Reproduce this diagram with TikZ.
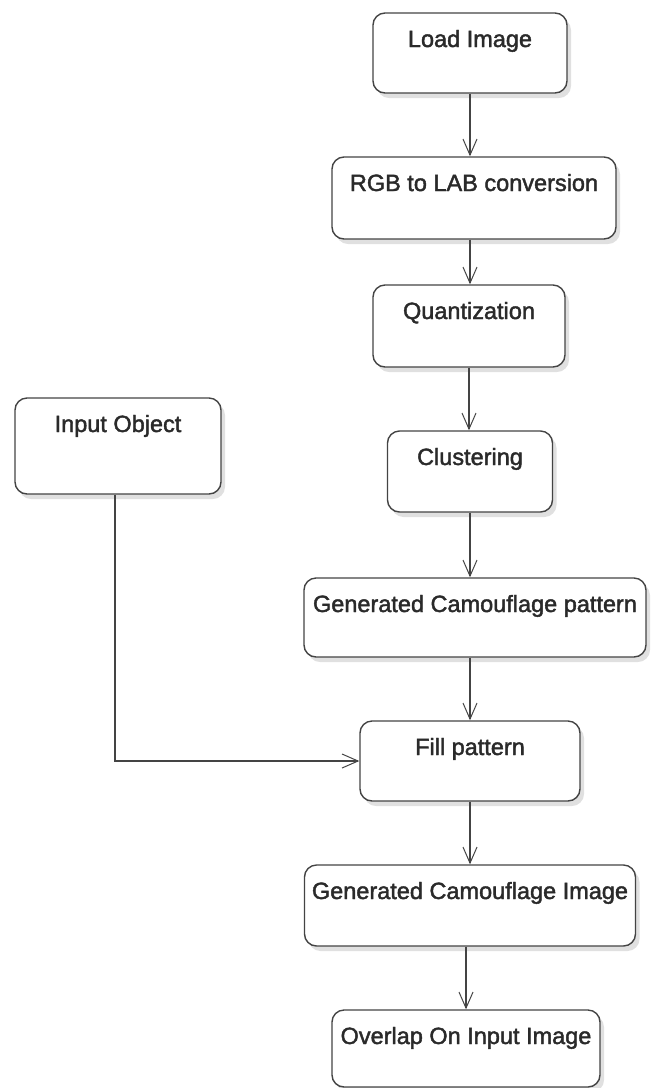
\documentclass[tikz,border=0pt]{standalone}
\usepackage{fontspec}
\setmainfont[FakeBold=1.8]{Liberation Sans}
\usetikzlibrary{arrows.meta,shadows}
\definecolor{edgec}{HTML}{444444}
\definecolor{txtc}{HTML}{2A2A2A}
\tikzset{
  box/.style={draw=edgec, line width=1.4pt, rounded corners=12pt, fill=white,
    inner sep=0pt, text=txtc, font=\fontsize{23.5}{28}\selectfont, text height=34pt,
    drop shadow={shadow xshift=4pt, shadow yshift=-5pt, opacity=0.12, fill=black}},
  arr/.style={draw=edgec, line width=1.2pt, -{Straight Barb[length=16pt,width=14pt,line width=1pt]}},
}
\begin{document}
\begin{tikzpicture}[x=1pt,y=-1pt]
\useasboundingbox (0,0) rectangle (654,1088);
\node[box, minimum width=194pt, text depth=46pt] (load) at (470,53) {Load Image};
\node[box, minimum width=284pt, text depth=48pt] (rgb) at (474,198) {RGB to LAB conversion};
\node[box, minimum width=192pt, text depth=48pt] (quant) at (469,326) {Quantization};
\node[box, minimum width=206pt, text depth=62pt] (inobj) at (118,446) {Input Object};
\node[box, minimum width=165pt, text depth=47pt] (clust) at (470,471.5) {Clustering};
\node[box, minimum width=342pt, text depth=45pt] (genpat) at (475,617.5) {Generated Camouflage pattern};
\node[box, minimum width=220pt, text depth=46pt] (fill) at (470,761) {Fill pattern};
\node[box, minimum width=331pt, text depth=47pt] (genimg) at (470,905.5) {Generated Camouflage Image};
\node[box, minimum width=268pt, text depth=43pt] (overlap) at (466,1048.5) {Overlap On Input Image};
\draw[arr] (load.south) -- (load.south |- rgb.north);
\draw[arr] (rgb.south -| load.south) -- (load.south |- quant.north);
\draw[arr] (quant.south) -- (quant.south |- clust.north);
\draw[arr] (clust.south) -- (clust.south |- genpat.north);
\draw[arr] (genpat.south -| fill.north) -- (fill.north);
\draw[arr] (fill.south) -- (fill.south |- genimg.north);
\draw[arr] (genimg.south -| overlap.north) -- (overlap.north);
\draw[arr] ([xshift=-3pt]inobj.south) |- (fill.west);
\end{tikzpicture}
\end{document}
